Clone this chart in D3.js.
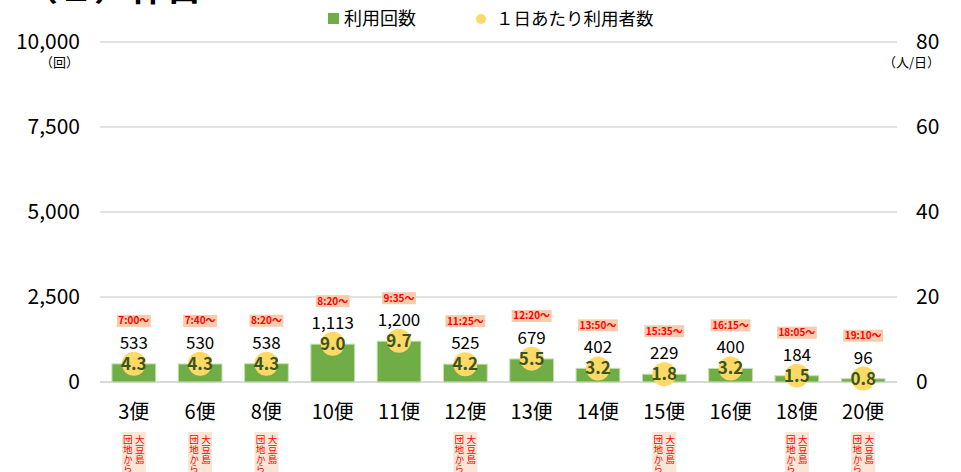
<!DOCTYPE html>
<html>
<head>
<meta charset="utf-8">
<script src="https://cdn.jsdelivr.net/npm/d3@7"></script>
<style>
  body { margin: 0; background: #fff; }
  svg { display: block; font-family: "Noto Sans CJK JP", "Noto Sans", sans-serif; }
  .vert { writing-mode: vertical-rl; }
</style>
</head>
<body>
<div id="chart"></div>
<script>
// data
const flights = ["3便", "6便", "8便", "10便", "11便", "12便", "13便", "14便", "15便", "16便", "18便", "20便"];
const usageCount = [533, 530, 538, 1113, 1200, 525, 679, 402, 229, 400, 184, 96];
const usersPerDay = [4.3, 4.3, 4.3, 9.0, 9.7, 4.2, 5.5, 3.2, 1.8, 3.2, 1.5, 0.8];
const departTimes = ["7:00～", "7:40～", "8:20～", "8:20～", "9:35～", "11:25～", "12:20～", "13:50～", "15:35～", "16:15～", "18:05～", "19:10～"];
const fromDanchi = [true, true, true, false, false, true, false, false, true, false, true, true];
const noteColumns = ["大豆島", "団地から"];
const leftTicks = [0, 2500, 5000, 7500, 10000];
const rightTicks = [0, 20, 40, 60, 80];

let width = 961,
    height = 472,
    margin = {top: 42, left: 100, right: 64, bottom: 90},
    green = "#70AD47",
    yellow = "#FFD966",
    grid = "#D9D9D9";

let data = flights.map((f, i) => ({
    flight: f, count: usageCount[i], perDay: usersPerDay[i],
    time: departTimes[i], danchi: fromDanchi[i]
}));

let svg = d3.select("#chart").append("svg")
    .attr("width", width)
    .attr("height", height);

// scales
let xScale = d3.scaleBand()
        .domain(flights)
        .range([margin.left, width - margin.right])
        .paddingInner(0.34)
        .paddingOuter(0.18),
    yScale = d3.scaleLinear()
        .domain([0, 10000])
        .range([height - margin.bottom, margin.top]),
    y2Scale = d3.scaleLinear()
        .domain([0, 80])
        .range([height - margin.bottom, margin.top]);

let cx = d => xScale(d.flight) + xScale.bandwidth() / 2;

// title (cut off at top in the original)
svg.append("text")
    .attr("x", 22)
    .attr("y", 1)
    .attr("font-size", 36)
    .attr("font-weight", "bold")
    .text("（２）休日");

// gridlines
svg.append("g")
    .selectAll("line")
    .data(leftTicks)
    .join("line")
    .attr("x1", margin.left)
    .attr("x2", width - margin.right)
    .attr("y1", d => yScale(d))
    .attr("y2", d => yScale(d))
    .attr("stroke", grid)
    .attr("stroke-width", d => d === 0 ? 2 : 1.5);

// left axis
let leftAxis = svg.append("g")
    .attr("transform", `translate(80,0)`)
    .call(d3.axisLeft(yScale).tickValues(leftTicks).tickSize(0).tickPadding(0)
        .tickFormat(d3.format(",")));
leftAxis.select(".domain").remove();
leftAxis.selectAll("text")
    .attr("font-size", 21)
    .attr("font-family", "Noto Sans CJK JP")
    .attr("fill", "#000");

svg.append("text")
    .attr("x", 79)
    .attr("y", 67)
    .attr("text-anchor", "end")
    .attr("font-size", 13)
    .text("（回）");

// right axis
let rightAxis = svg.append("g")
    .attr("transform", `translate(916,0)`)
    .call(d3.axisRight(y2Scale).tickValues(rightTicks).tickSize(0).tickPadding(0));
rightAxis.select(".domain").remove();
rightAxis.selectAll("text")
    .attr("font-size", 21)
    .attr("font-family", "Noto Sans CJK JP")
    .attr("fill", "#000");

svg.append("text")
    .attr("x", 940)
    .attr("y", 67)
    .attr("text-anchor", "end")
    .attr("font-size", 13)
    .text("（人/日）");

// bars
svg.append("g")
    .selectAll("rect")
    .data(data)
    .join("rect")
    .attr("x", d => xScale(d.flight))
    .attr("y", d => yScale(d.count))
    .attr("width", xScale.bandwidth())
    .attr("height", d => yScale(0) - yScale(d.count))
    .attr("fill", green)
    .attr("stroke", "#C5E0B4")
    .attr("stroke-width", 1);

// bar value labels
svg.append("g")
    .selectAll("text")
    .data(data)
    .join("text")
    .attr("x", cx)
    .attr("y", d => yScale(d.count) - 15)
    .attr("text-anchor", "middle")
    .attr("font-size", 17)
    .text(d => d3.format(",")(d.count));

// departure time tags
let tags = svg.append("g")
    .selectAll("g")
    .data(data)
    .join("g")
    .attr("transform", d => `translate(${cx(d)},${yScale(d.count) - 43})`);
tags.append("rect")
    .attr("fill", "#F8CBAD");
tags.append("text")
    .attr("text-anchor", "middle")
    .attr("y", 3.5)
    .attr("font-size", 10)
    .attr("font-weight", "bold")
    .attr("fill", "#FF0000")
    .text(d => d.time);
tags.each(function () {
    let t = d3.select(this).select("text").node().getComputedTextLength();
    d3.select(this).select("rect")
        .attr("x", -t / 2 - 1.5)
        .attr("y", -6)
        .attr("width", t + 3)
        .attr("height", 12);
});

// users per day circles
let dots = svg.append("g")
    .selectAll("g")
    .data(data)
    .join("g")
    .attr("transform", d => `translate(${cx(d)},${y2Scale(d.perDay)})`);
dots.append("circle")
    .attr("r", 12)
    .attr("fill", yellow);
dots.append("text")
    .attr("text-anchor", "middle")
    .attr("y", 6)
    .attr("font-size", 17)
    .attr("font-weight", "bold")
    .attr("fill", "#375623")
    .text(d => d3.format(".1f")(d.perDay));

// x labels
svg.append("g")
    .selectAll("text")
    .data(data)
    .join("text")
    .attr("x", cx)
    .attr("y", 419)
    .attr("text-anchor", "middle")
    .attr("font-size", 20)
    .text(d => d.flight);

// vertical "大豆島 / 団地から" notes
let notes = svg.append("g")
    .selectAll("g")
    .data(data.filter(d => d.danchi))
    .join("g")
    .attr("transform", d => `translate(${cx(d)},432)`);
notes.append("rect")
    .attr("x", -12)
    .attr("y", 0)
    .attr("width", 24)
    .attr("height", 50)
    .attr("fill", "#FBE5D6");
noteColumns.forEach((col, c) => {
    notes.append("text")
        .attr("class", "vert")
        .attr("x", c === 0 ? 6 : -6)
        .attr("y", 3)
        .attr("font-size", 9.6)
        .attr("fill", "#FF0000")
        .text(col);
});

// legend
let legend = svg.append("g");
legend.append("rect")
    .attr("x", 328)
    .attr("y", 13)
    .attr("width", 11)
    .attr("height", 11)
    .attr("fill", green);
legend.append("text")
    .attr("x", 344)
    .attr("y", 25)
    .attr("font-size", 18)
    .text("利用回数");
legend.append("circle")
    .attr("cx", 481)
    .attr("cy", 19)
    .attr("r", 5)
    .attr("fill", yellow);
legend.append("text")
    .attr("x", 496)
    .attr("y", 25)
    .attr("font-size", 17.5)
    .text("１日あたり利用者数");
</script>
</body>
</html>
